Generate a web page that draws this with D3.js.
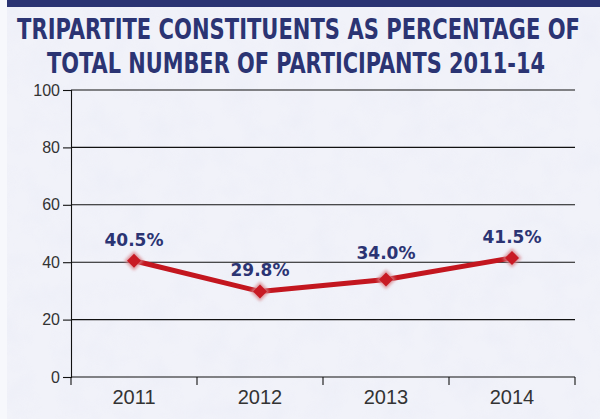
<!DOCTYPE html>
<html>
<head>
<meta charset="utf-8">
<script src="https://cdn.jsdelivr.net/npm/d3@7"></script>
<style>
  html, body { margin: 0; padding: 0; background: #eef0f8; }
  svg { display: block; }
</style>
</head>
<body>
<svg id="chart" width="600" height="419"></svg>
<script>
// Share of tripartite constituents among all participants, per year
const years = ["2011", "2012", "2013", "2014"];
const shares = [40.5, 29.8, 34.0, 41.5];
const yTicks = [0, 20, 40, 60, 80, 100];
const titleLines = [
  "TRIPARTITE CONSTITUENTS AS PERCENTAGE OF",
  "TOTAL NUMBER OF PARTICIPANTS 2011-14"
];

const W = 600, H = 419;
const margin = { left: 71, right: 25, top: 90, bottom: 42 };
const svg = d3.select("#chart");
const navy = "#2b3473";
const red = "#c3161f";

// paper-like background
const defs = svg.append("defs");
const tex = defs.append("filter").attr("id", "paper").attr("x", 0).attr("y", 0).attr("width", 1).attr("height", 1);
tex.append("feTurbulence").attr("type", "fractalNoise").attr("baseFrequency", 0.035).attr("numOctaves", 3).attr("seed", 4).attr("result", "n");
tex.append("feColorMatrix").attr("in", "n").attr("type", "matrix")
  .attr("values", "0 0 0 0 0.80  0 0 0 0 0.82  0 0 0 0 0.92  0 0 0 -1.2 0.75");
svg.append("rect").attr("width", W).attr("height", H).attr("fill", "#f1f2f9");
svg.append("rect").attr("width", W).attr("height", H).attr("filter", "url(#paper)").attr("opacity", 0.55);
// pale page edge on the left
svg.append("rect").attr("x", 0).attr("y", 0).attr("width", 7).attr("height", H).attr("fill", "#f7f8fc");

const glow = defs.append("filter").attr("id", "glow").attr("x", "-50%").attr("y", "-50%").attr("width", "200%").attr("height", "200%");
glow.append("feGaussianBlur").attr("stdDeviation", 1.6);

// top band
svg.append("rect").attr("x", 7).attr("y", 0).attr("width", W - 7).attr("height", 7).attr("fill", navy);

// title: condensed bold, each line fitted to its width
const titleBoxes = [{ x0: 17, x1: 580, base: 39 }, { x0: 47, x1: 545, base: 73 }];
svg.append("g").selectAll("text").data(titleLines).join("text")
  .attr("text-anchor", "middle")
  .attr("font-family", "'DejaVu Sans Condensed', 'Liberation Sans Narrow', sans-serif")
  .attr("font-stretch", "condensed")
  .attr("font-weight", "bold")
  .attr("font-size", 27)
  .attr("fill", navy)
  .text(d => d)
  .each(function (d, i) {
    const b = titleBoxes[i];
    const natural = this.getComputedTextLength();
    const sx = (b.x1 - b.x0) / natural;
    d3.select(this).attr("transform",
      `translate(${(b.x0 + b.x1) / 2},${b.base}) scale(${sx},1.05)`);
  });

const x = d3.scaleBand().domain(years).range([margin.left, W - margin.right]);
const y = d3.scaleLinear().domain([0, 100]).range([H - margin.bottom, margin.top]);

// horizontal gridlines
svg.append("g").selectAll("line").data(yTicks).join("line")
  .attr("x1", margin.left).attr("x2", W - margin.right)
  .attr("y1", d => y(d)).attr("y2", d => y(d))
  .attr("stroke", "#111").attr("stroke-width", 1.1);

// y axis
const yAxis = svg.append("g").attr("transform", `translate(${margin.left},0)`)
  .call(d3.axisLeft(y).tickValues(yTicks).tickSize(8).tickPadding(3));
yAxis.select(".domain").attr("stroke", "#111").attr("stroke-width", 1.1);
yAxis.selectAll(".tick line").attr("stroke", "#111").attr("stroke-width", 1.1);
yAxis.selectAll(".tick text").attr("font-family", "'Liberation Sans', Arial, sans-serif")
  .attr("font-size", 16).attr("fill", "#333");

// x axis with ticks at band boundaries
const xAxis = svg.append("g").attr("transform", `translate(0,${y(0)})`)
  .call(d3.axisBottom(x).tickSize(0).tickPadding(13));
xAxis.select(".domain").remove();
xAxis.selectAll(".tick text").attr("font-family", "'Liberation Sans', Arial, sans-serif")
  .attr("font-size", 20).attr("fill", "#333");
const bounds = years.map(d => x(d)).concat([x(years[years.length - 1]) + x.bandwidth()]);
svg.append("g").selectAll("line").data(bounds).join("line")
  .attr("x1", d => d).attr("x2", d => d)
  .attr("y1", y(0)).attr("y2", y(0) + 8)
  .attr("stroke", "#111").attr("stroke-width", 1.1);

const pts = years.map((yr, i) => ({ yr, v: shares[i] }));
const cx = d => x(d.yr) + x.bandwidth() / 2;

// line
svg.append("path").datum(pts)
  .attr("d", d3.line().x(cx).y(d => y(d.v)))
  .attr("fill", "none").attr("stroke", red).attr("stroke-width", 5)
  .attr("stroke-linejoin", "round");

// diamond markers with soft halo
const diamond = d3.symbol().type(d3.symbolDiamond2);
const mk = svg.append("g").selectAll("g").data(pts).join("g")
  .attr("transform", d => `translate(${cx(d)},${y(d.v)})`);
mk.append("path").attr("d", diamond.size(240)()).attr("fill", "#d9848a")
  .attr("opacity", 0.8).attr("filter", "url(#glow)");
mk.append("path").attr("d", diamond.size(125)()).attr("fill", "#c81a24");

// value labels, lifted clear of any gridline they would sit on
const labelY = d => {
  let base = y(d.v) - 15;
  yTicks.forEach(t => {
    const g = y(t);
    if (base > g - 1 && base < g + 8) base = g - 3;
  });
  return base;
};
svg.append("g").selectAll("text").data(pts).join("text")
  .attr("x", cx)
  .attr("y", labelY)
  .attr("text-anchor", "middle")
  .attr("font-family", "'DejaVu Sans', Verdana, sans-serif")
  .attr("font-weight", "bold")
  .attr("font-size", 17)
  .attr("fill", navy)
  .text(d => d.v.toFixed(1) + "%");
</script>
</body>
</html>
